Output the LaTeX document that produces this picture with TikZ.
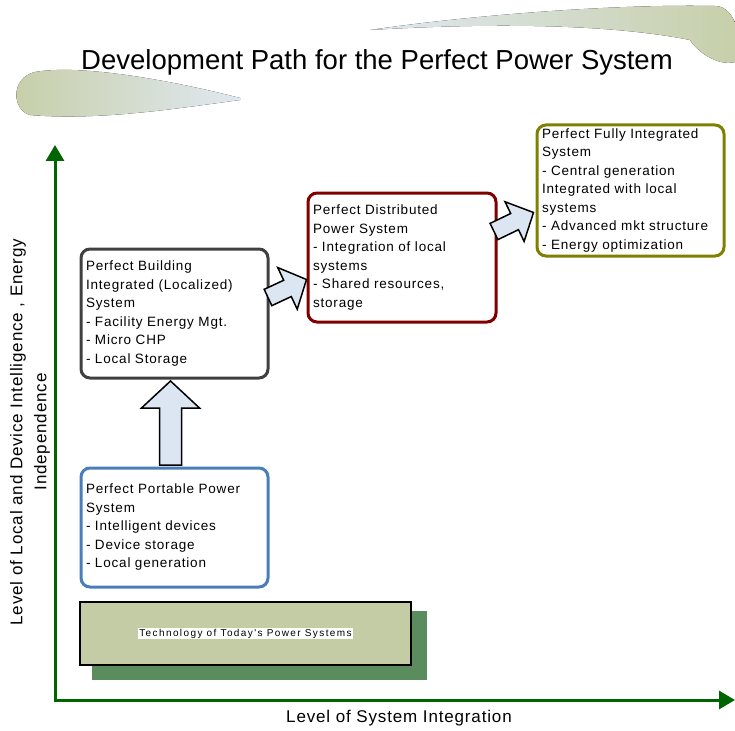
\documentclass[tikz,border=0pt]{standalone}
\usepackage{fontspec}
\setmainfont{Liberation Sans}
\newfontfamily\boxfont[LetterSpace=6]{Liberation Sans}
\newfontfamily\axisfont[LetterSpace=5]{Liberation Sans}
\newfontfamily\techfont[LetterSpace=14]{Liberation Sans}
\usetikzlibrary{arrows.meta, positioning, calc}

\definecolor{portblue}{HTML}{4A7EBB}
\definecolor{buildgray}{HTML}{404040}
\definecolor{distred}{HTML}{800000}
\definecolor{fullolive}{HTML}{808000}
\definecolor{axisgreen}{RGB}{0,100,0}
\definecolor{arrowfill}{HTML}{DCE6F2}
\definecolor{techfill}{HTML}{C4CCA6}
\definecolor{techshadow}{HTML}{5B8C5E}
\definecolor{swooshgreen}{HTML}{C6CFA8}
\definecolor{swooshblue}{HTML}{E0E8F1}

\tikzset{
  stagebox/.style={draw, line width=3pt, rounded corners=9pt, fill=white,
    anchor=north west, minimum width=187pt, text width=177pt, inner xsep=5pt,
    align=left, font=\boxfont\fontsize{13.5}{18.5}\selectfont},
  axisline/.style={line width=3pt, axisgreen,
    {Triangle[length=16pt,width=18pt]}-{Triangle[length=16pt,width=18pt]}},
  blockarrow/.style={draw=black, line width=1.5pt, fill=arrowfill, line join=miter},
  axislabel/.style={align=center, font=\axisfont\fontsize{17}{24}\selectfont},
}

% block arrow: tail, tip, shaft half width, head half width, head length
\newcommand{\stagearrow}[5]{%
  \coordinate (hb) at ($(#2)!#5!(#1)$);
  \draw[blockarrow] ($(#1)!#3!90:(#2)$) -- ($(hb)!#3!-90:(#1)$)
    -- ($(hb)!#4!-90:(#1)$) -- (#2) -- ($(hb)!#4!90:(#1)$)
    -- ($(hb)!#3!90:(#1)$) -- ($(#1)!#3!-90:(#2)$) -- cycle;
}

\begin{document}
\begin{tikzpicture}[x=1pt, y=-1pt]
  \useasboundingbox (0,0) rectangle (735,730);

  % Swooshes behind the title
  \fill[left color=swooshblue, right color=swooshgreen]
    (370,30) .. controls (480,14) and (620,4) .. (715,6)
    .. controls (735,6) and (745,40) .. (735,62)
    .. controls (720,66) and (700,55) .. (690,40)
    .. controls (600,22) and (470,24) .. (370,30) -- cycle;
  \fill[left color=swooshgreen, right color=swooshblue]
    (240,98) .. controls (170,80) and (80,64) .. (35,72)
    .. controls (10,78) and (12,110) .. (30,115)
    .. controls (100,121) and (180,108) .. (240,100) -- cycle;
  \node[font=\fontsize{27.5}{32}\selectfont] (title) at (377,62)
    {Development Path for the Perfect Power System};

  % Axes
  \coordinate (origin) at (55,700);
  \coordinate (ytop) at (55,145);
  \coordinate (xend) at (735,700);
  \draw[axisline] (ytop) -- (origin) -- (xend);
  \node[axislabel, rotate=90] (ylabel) at (30,432)
    {Level of Local and Device Intelligence , Energy\\Independence};
  \node[axislabel] (xlabel) at (399,718) {Level of System Integration};

  % Today's power systems
  \fill[techshadow] (92,611) rectangle (427,680);
  \node[draw=black, line width=2pt, fill=techfill, anchor=north west,
    minimum width=331pt, minimum height=63pt] (today) at (79,601) {};
  \node[fill=white, inner sep=1pt, font=\techfont\fontsize{10}{12}\selectfont]
    (todaytext) at (today.center) {Technology of Today's Power Systems};

  % Stages
  \node[stagebox, draw=portblue, minimum height=119pt] (portable) at (79.5,466.5)
    {Perfect Portable Power\\System\\- Intelligent devices\\- Device storage\\- Local generation};
  \node[stagebox, draw=buildgray, minimum height=129pt] (building) at (79.5,247.5)
    {Perfect Building\\Integrated (Localized)\\System\\- Facility Energy Mgt.\\- Micro CHP\\- Local Storage};
  \node[stagebox, draw=distred, minimum width=188pt, text width=178pt,
    minimum height=129pt] (distributed) at (306.5,191.5)
    {Perfect Distributed\\Power System\\- Integration of local\\systems\\- Shared resources,\\storage};
  \node[stagebox, draw=fullolive, minimum height=131pt] (full) at (535.5,123.5)
    {Perfect Fully Integrated\\System\\- Central generation\\Integrated with local\\systems\\- Advanced mkt structure\\- Energy optimization};

  % Development steps
  \coordinate (p2b-tail) at ([shift={(-4,-1.5)}]portable.north);
  \coordinate (p2b-tip) at ([shift={(-4,1.5)}]building.south);
  \stagearrow{p2b-tail}{p2b-tip}{11pt}{29pt}{27pt}
  \coordinate (b2d-tail) at ([shift={(-1.5,-16)}]building.east);
  \coordinate (b2d-tip) at ([shift={(0,22)}]distributed.west);
  \stagearrow{b2d-tail}{b2d-tip}{9pt}{23pt}{21pt}
  \coordinate (d2f-tail) at ([shift={(-3.5,-26)}]distributed.east);
  \coordinate (d2f-tip) at ([shift={(-2,22)}]full.west);
  \stagearrow{d2f-tail}{d2f-tip}{9pt}{22pt}{21pt}
\end{tikzpicture}
\end{document}
